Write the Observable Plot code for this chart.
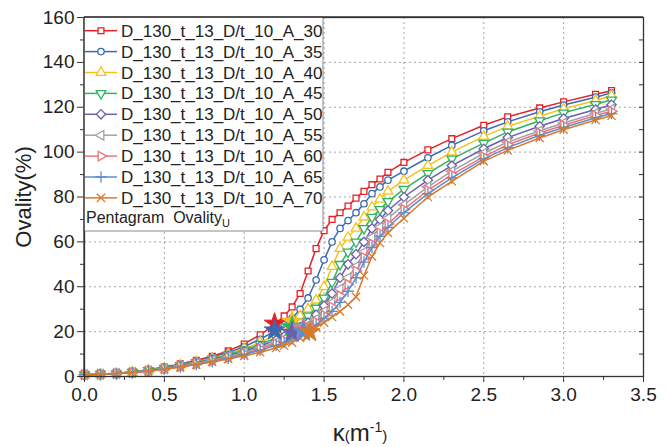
<!DOCTYPE html>
<html><head><meta charset="utf-8">
<script src="https://cdn.jsdelivr.net/npm/d3@7"></script>
<script src="https://cdn.jsdelivr.net/npm/@observablehq/plot@0.6"></script>
<style>
body{margin:0;background:#fff;}
svg{font-family:"Liberation Sans",Arial,sans-serif;}
</style>
</head><body><div id="chart"></div>
<script>
const seriesNames = ["D_130_t_13_D/t_10_A_30","D_130_t_13_D/t_10_A_35","D_130_t_13_D/t_10_A_40","D_130_t_13_D/t_10_A_45","D_130_t_13_D/t_10_A_50","D_130_t_13_D/t_10_A_55","D_130_t_13_D/t_10_A_60","D_130_t_13_D/t_10_A_65","D_130_t_13_D/t_10_A_70"];
const colors = ["#e41f26","#3a6bb0","#f5c21b","#2eb35e","#6a5fad","#a3a3a3","#f0727a","#5b8fd0","#d97a2b"];
const kappa = [0,0.1,0.2,0.3,0.4,0.5,0.6,0.7,0.8,0.9,1.0,1.1,1.2,1.25,1.3,1.35,1.4,1.45,1.5,1.55,1.6,1.65,1.7,1.75,1.8,1.85,1.9,2.0,2.15,2.3,2.5,2.65,2.85,3.0,3.2,3.3];
const A30 = [0.8,1.0,1.4,2.1,3.0,4.2,5.6,7.2,9.0,11.4,14.5,18.6,23.6,27,31,37,47,57,65,70,73,76,79.5,82.5,85.5,88,91,95.4,101,106,112,115.7,119.7,122.4,125.8,127.4];
const A35 = [0.8,1.0,1.4,2.0,2.9,4.0,5.3,6.8,8.5,10.6,13.3,16.6,20.6,23,26,30,35,43,52,60,66,69.5,73,77,81.5,84.5,87.5,91.5,97.5,103,109.5,113.5,118,121,124.5,126.4];
const A40 = [0.8,1.0,1.3,1.9,2.8,3.8,5.1,6.5,8.1,10.0,12.4,15.2,18.6,21,24.5,27,30,34,40,49,57,62,66,71,75.5,79,82.5,87.5,94,100,107,111.5,116,119.3,123,125.2];
const A45 = [0.8,1.0,1.3,1.9,2.7,3.7,4.9,6.3,7.8,9.6,11.8,14.4,17.2,19.5,22,24.5,27,30.5,35,42,50,55.5,60,66,71,74.5,78,83.5,90.5,97,104,109,114,117.5,121.3,123.3];
const A50 = [0.8,1.0,1.3,1.8,2.6,3.6,4.8,6.1,7.5,9.2,11.2,13.6,16.2,17.8,19.6,22,24,27.5,31.5,37,44,50,54.5,60,66,70,74,80,87.5,94,101.5,106.5,111.5,115,119,121.1];
const A55 = [0.8,1.0,1.3,1.8,2.5,3.4,4.6,5.8,7.2,8.8,10.7,12.9,15.3,16.8,18.6,21,22.8,25.5,29,33,39,44,49,55.5,62,66.5,70.5,76.5,84.5,91.5,99.5,104.5,109.5,113,117.3,119.2];
const A60 = [0.8,1.0,1.3,1.8,2.5,3.4,4.5,5.6,6.9,8.4,10.2,12.3,14.6,16,17.7,20,21.8,24.3,27.3,31,36,41,47,53,59,64,68,74.5,83,90,98,103.3,108.5,112,116.3,118.2];
const A65 = [0.8,1.0,1.3,1.8,2.4,3.3,4.3,5.4,6.7,8.1,9.8,11.7,13.9,15.2,16.8,18.8,20.8,23,26,29,33,38,44,51,57.5,62.5,66.5,73,81.5,88.5,97,102,107.5,111,115.3,117.2];
const A70 = [0.8,1.0,1.3,1.8,2.4,3.2,4.2,5.3,6.5,7.8,9.2,10.8,12.7,13.8,15.1,17.2,19.6,22,24,26.5,29,32,35.5,45,53.5,59.5,64,70.5,80,87,96,100.8,106.3,110,114.3,116.2];
const seriesValues = [A30,A35,A40,A45,A50,A55,A60,A65,A70];
const starKappa = [1.19,1.19,1.30,1.30,1.30,1.37,1.37,1.37,1.41];
const starOvality = [23.6,20.6,24.5,22,19.6,21.8,21,20,19.8];
const xTicks = [0,0.5,1.0,1.5,2.0,2.5,3.0,3.5];
const xMinor = [0.25,0.75,1.25,1.75,2.25,2.75,3.25];
const yTicks = [0,20,40,60,80,100,120,140,160];
const yMinor = [10,30,50,70,90,110,130,150];
const yRight = [0,10,20,30,40,50,60,70,80,90,100,110,120,130,140,150,160];
const legendNote = "Pentagram  Ovality";
const legendNoteSub = "U";

function triangleAt(angleDeg){
  return {draw(ctx, size){
    const R = Math.sqrt(size/(3*Math.sqrt(3)/4));
    for (let j=0;j<3;j++){
      const a=(angleDeg+120*j)*Math.PI/180;
      const px=R*Math.cos(a), py=R*Math.sin(a);
      if (j) ctx.lineTo(px,py); else ctx.moveTo(px,py);
    }
    ctx.closePath();
  }};
}
const symbols = [d3.symbolSquare, d3.symbolCircle, triangleAt(-90), triangleAt(90), d3.symbolDiamond2, triangleAt(180), triangleAt(0), d3.symbolPlus, d3.symbolTimes];
const symbolR = [3.3,3.2,3.6,3.6,4.2,3.6,3.6,3.8,3.8];
const hollow = [true,true,true,true,true,true,true,false,false];

const rows = [];
seriesValues.forEach((vals,i)=>vals.forEach((v,j)=>rows.push({s:i,k:kappa[j],v})));

const marks = [
  Plot.gridX(xTicks.slice(1,-1), {stroke:"#9a9a9a", strokeDasharray:"2,3", strokeOpacity:0.9, strokeWidth:1}),
  Plot.gridY(yTicks.slice(1,-1), {stroke:"#9a9a9a", strokeDasharray:"2,3", strokeOpacity:0.9, strokeWidth:1})
];
for (let i=0;i<seriesValues.length;i++){
  const d = rows.filter(r=>r.s===i);
  marks.push(Plot.line(d, {x:"k", y:"v", stroke:colors[i], strokeWidth:1.5}));
  marks.push(Plot.dot(d, {x:"k", y:"v", symbol:symbols[i], r:symbolR[i], stroke:colors[i], fill: hollow[i] ? "white" : "none", strokeWidth:1.3}));
}
for (let i=0;i<seriesValues.length;i++){
  marks.push(Plot.dot([{k:starKappa[i], v:starOvality[i]}], {x:"k", y:"v", symbol:"star", r:6.5, fill:colors[i], stroke:colors[i], strokeWidth:1}));
}
marks.push(
  Plot.frame({stroke:"#333", strokeWidth:1.3}),
  Plot.axisX(xTicks, {tickSize:6, tickPadding:5, tickFormat:d3.format(".1f"), fontSize:19, label:null, stroke:"#333"}),
  Plot.axisX(xMinor, {tickSize:4, tickFormat:()=>"", label:null, stroke:"#333"}),
  Plot.axisY(yTicks, {tickSize:7, tickPadding:3, fontSize:19, label:null, stroke:"#333"}),
  Plot.axisY(yMinor, {tickSize:4, tickFormat:()=>"", label:null, stroke:"#333"}),
  Plot.axisY(yRight, {anchor:"right", tickSize:-5, tickFormat:()=>"", label:null, stroke:"#333"})
);

const chart = Plot.plot({
  width:666, height:447,
  marginLeft:84, marginRight:23, marginTop:17, marginBottom:71,
  x:{domain:[0,3.5]}, y:{domain:[0,160]},
  style:{fontFamily:'"Liberation Sans",Arial,sans-serif', color:"#222", background:"white", overflow:"visible"},
  marks
});
document.getElementById("chart").appendChild(chart);

const svg = d3.select(chart);
// Legend box
const lg = svg.append("g").attr("text-anchor","start");
lg.append("rect").attr("x",84).attr("y",17).attr("width",239).attr("height",214)
  .attr("fill","white").attr("stroke","#8a8a8a").attr("stroke-width",1);
seriesNames.forEach((name,i)=>{
  const y = 30.7 + i*20.9;
  lg.append("line").attr("x1",85).attr("x2",117).attr("y1",y).attr("y2",y).attr("stroke",colors[i]).attr("stroke-width",1.5);
  lg.append("path").attr("d", d3.symbol().type(symbols[i]).size(Math.PI*symbolR[i]*symbolR[i])())
    .attr("transform",`translate(101,${y})`).attr("stroke",colors[i]).attr("stroke-width",1.3)
    .attr("fill", hollow[i] ? "white" : "none");
  lg.append("text").attr("x",121).attr("y",y+6).attr("text-anchor","start").attr("font-size",17).attr("fill","#222").text(name);
});
const note = lg.append("text").attr("x",86).attr("y",223).attr("text-anchor","start").attr("font-size",16).attr("fill","#222");
note.append("tspan").text(legendNote);
note.append("tspan").attr("font-size",11).attr("dy",4).text(legendNoteSub);
// redraw left/top frame edges over legend
svg.append("line").attr("x1",84).attr("x2",84).attr("y1",17).attr("y2",376).attr("stroke","#333").attr("stroke-width",1.3);
svg.append("line").attr("x1",84).attr("x2",643).attr("y1",17).attr("y2",17).attr("stroke","#333").attr("stroke-width",1.3);

// Axis titles
svg.append("text").attr("transform","translate(31,197) rotate(-90)").attr("text-anchor","middle")
  .attr("font-size",22).attr("fill","#222").text("Ovality(%)");
const xt = svg.append("text").attr("x",360).attr("y",441).attr("text-anchor","middle").attr("fill","#222");
xt.append("tspan").attr("font-size",24).text("κ");
xt.append("tspan").attr("font-size",15).text("(");
xt.append("tspan").attr("font-size",24).text("m");
xt.append("tspan").attr("font-size",14).attr("dy",-9).text("-1");
xt.append("tspan").attr("font-size",15).attr("dy",9).text(")");
</script>
</body></html>
